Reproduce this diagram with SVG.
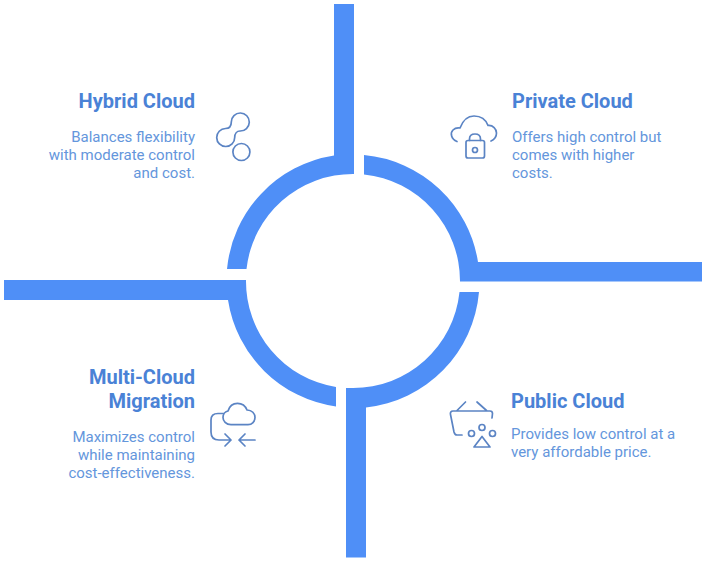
<svg xmlns="http://www.w3.org/2000/svg" width="704" height="563" viewBox="0 0 704 563">
<style>
.seg{fill:#4f8ff7}
.t{font-family:Roboto,"Liberation Sans",sans-serif;font-size:20px;font-weight:700;fill:#4a82d6}
.b{font-family:Roboto,"Liberation Sans",sans-serif;font-size:15px;fill:#6496dc}
.e{text-anchor:end}
.i{fill:none;stroke:#5b84c4;stroke-width:1.7;stroke-linecap:round;stroke-linejoin:round}
</style>
<rect width="704" height="563" fill="#fff"/>
<g id="connectors">
<path class="seg" d="M334 4H354V174A107 107 0 0 0 246.500 269H227A127 127 0 0 1 334 155.500Z"/>
<path class="seg" d="M364 155A127 127 0 0 1 478 262H702V281.500H460A107 107 0 0 0 364 174.500Z"/>
<path class="seg" d="M479 292A127 127 0 0 1 366 407.500V557.500H346V388H353A107 107 0 0 0 459.500 292Z"/>
<path class="seg" d="M4 280H246A107 107 0 0 0 336 387V406.500A127 127 0 0 1 228 300H4Z"/>
</g>
<g id="hybrid-cloud">
<text class="t e" x="195" y="107.500">Hybrid Cloud</text>
<text class="b e" x="195" y="141.700">Balances flexibility</text>
<text class="b e" x="195" y="159.700">with moderate control</text>
<text class="b e" x="195" y="177.700">and cost.</text>
<path class="i" d="M231.300 122A9 9 0 1 1 240 131C237 131 234.700 133.500 234.700 137.500A9 9 0 1 1 225.500 128.500C229 128.500 231.300 126 231.300 122Z"/>
<circle class="i" cx="241.400" cy="152" r="8.500"/>
</g>
<g id="private-cloud">
<text class="t" x="512" y="107.500">Private Cloud</text>
<text class="b" x="512" y="141.700">Offers high control but</text>
<text class="b" x="512" y="159.700">comes with higher</text>
<text class="b" x="512" y="177.700">costs.</text>
<path class="i" d="M457 141.500C451 139 450 133 453 130C455 128 457 127.500 460 128C463 120 468 116 474 116C481 116 486 120 488 125.500C493 125 496.500 129 496.500 133C496.500 137 494.500 139.500 491 141"/>
<rect class="i" x="466" y="140.500" width="18.500" height="17.500" rx="2"/>
<path class="i" d="M469.500 140.500V139C469.500 135.500 472 134 475 134C478 134 480.500 135.500 480.500 139V140.500"/>
<circle class="i" cx="475" cy="150" r="2.500"/>
</g>
<g id="public-cloud">
<text class="t" x="511" y="407.500">Public Cloud</text>
<text class="b" x="511" y="438.700">Provides low control at a</text>
<text class="b" x="511" y="456.700">very affordable price.</text>
<path class="i" d="M457 410.500L465.500 402M477 402L486.500 410.500M453 411H490C491.500 411 492.500 412 492.500 413.500L492 418M453 411C451 411 450 412.500 450.500 414.500L454 432C454.500 434 455.500 435 457 435H462"/>
<circle class="i" cx="471.500" cy="433.500" r="3"/>
<circle class="i" cx="482" cy="427.500" r="3"/>
<circle class="i" cx="492.500" cy="433.500" r="3"/>
<path class="i" d="M482 436.500L490 447H474Z"/>
</g>
<g id="multi-cloud-migration">
<text class="t e" x="195" y="383.500">Multi-Cloud</text>
<text class="t e" x="195" y="407.500">Migration</text>
<text class="b e" x="195" y="442">Maximizes control</text>
<text class="b e" x="195" y="460">while maintaining</text>
<text class="b e" x="195" y="478">cost-effectiveness.</text>
<path class="i" d="M231 424.700C226 424.700 223 421 223 417.500C223 414 225.500 411.500 228 411C229.500 406 233.500 403.300 237.500 403.300C242 403.300 245.500 406 247 410C252 410 255 413.500 255 417.500C255 421.500 252 424.700 248 424.700Z"/>
<path class="i" d="M223.500 413.500H218C213.500 413.500 211 416 211 420V432C211 437 214 440 219 440H231M225 446L231 440L225 434"/>
<path class="i" d="M255 440H239M245 434L239 440L245 446"/>
</g>
</svg>
